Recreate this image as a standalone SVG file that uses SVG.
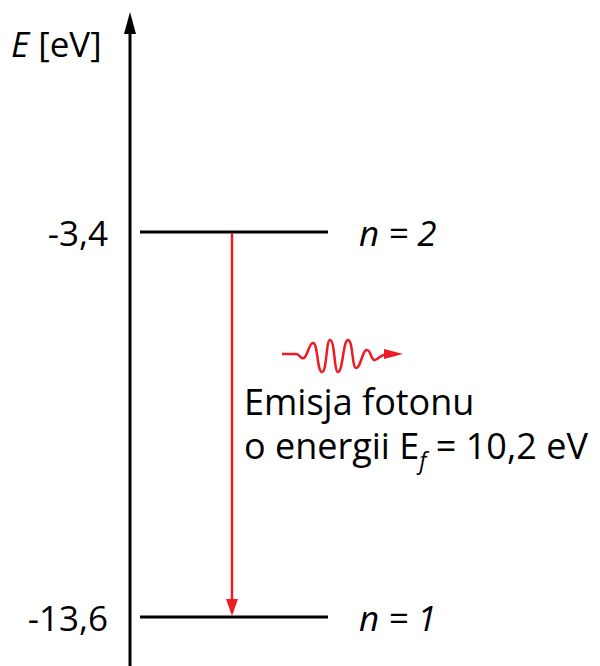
<svg xmlns="http://www.w3.org/2000/svg" width="600" height="666" viewBox="0 0 600 666">
<style>
text{font-family:"Open Sans","Noto Sans","Liberation Sans",sans-serif;font-size:35px;fill:#000}
.it{font-style:italic}
.end{text-anchor:end}
.lbl{font-size:36px}
.lvl{stroke:#000;stroke-width:3;fill:none}
.red{stroke:#ed1c24;fill:none;stroke-width:2.5}
</style>
<g id="axis">
<line x1="130" y1="30" x2="130" y2="666" stroke="#000" stroke-width="3"/>
<path d="M130,12 L124,34 L136,34 Z" fill="#000"/>
<text x="11" y="57"><tspan class="it">E</tspan> [eV]</text>
</g>
<g id="n2">
<line class="lvl" x1="140" y1="232" x2="328" y2="232"/>
<text x="108" y="246" class="end">-3,4</text>
<text x="359" y="246" class="it">n = 2</text>
</g>
<g id="n1">
<line class="lvl" x1="140" y1="617" x2="328" y2="617"/>
<text x="108" y="631" class="end">-13,6</text>
<text x="359" y="631" class="it">n = 1</text>
</g>
<g id="connectors">
<line class="red" x1="232" y1="233" x2="232" y2="600"/>
<path d="M226,599 L238,599 L232,616 Z" fill="#ed1c24"/>
</g>
<g id="photon">
<path class="red" d="M282,354 L296,354 C300,354 301,360 304,358 C308,355 309,343 313,343 C318,343 317,372 322,372 C327,372 326,340 330,340 C335,340 334,372 338,372 C343,372 343,340 348,340 C353,340 352,368 356,368 C361,368 362,350 367,350 C371,350 371,361 375,360 C379,359 381,354 388,354"/>
<path d="M384,349 L403,354 L384,359 Z" fill="#ed1c24"/>
</g>
<g id="label">
<text class="lbl"><tspan x="244" y="415">Emisja fotonu</tspan><tspan x="244" y="459">o energii E</tspan><tspan class="it" font-size="23" dy="10">f</tspan><tspan dy="-10"> = 10,2 eV</tspan></text>
</g>
</svg>
